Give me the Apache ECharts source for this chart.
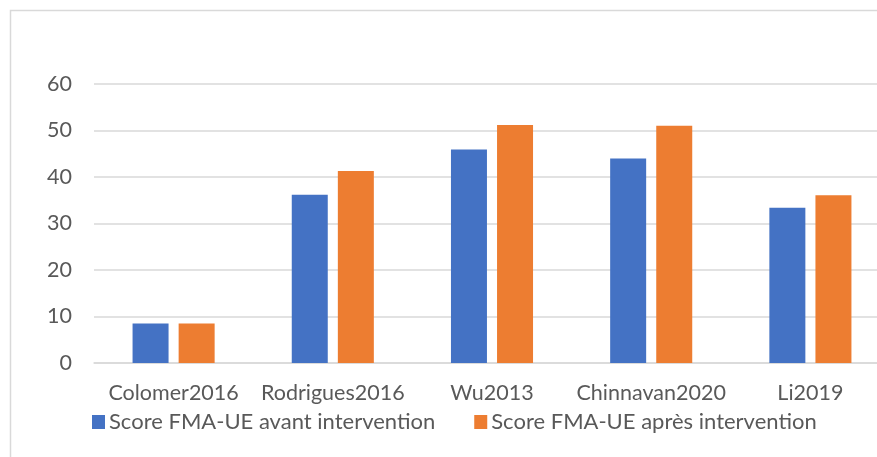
<!DOCTYPE html>
<html>
<head>
<meta charset="utf-8">
<script src="https://cdn.jsdelivr.net/npm/echarts@6/dist/echarts.min.js"></script>
<style>html,body{margin:0;padding:0;background:#fff}#c{width:877px;height:457px}</style>
</head>
<body>
<div id="c"></div>
<script>
const categories = ['Colomer2016', 'Rodrigues2016', 'Wu2013', 'Chinnavan2020', 'Li2019'];
const seriesNames = ['Score FMA-UE avant intervention', 'Score FMA-UE après intervention'];
const avant = [8.5, 36.2, 45.9, 44.0, 33.4];
const apres = [8.5, 41.3, 51.2, 51.0, 36.1];
const yTicks = { min: 0, max: 60, interval: 10 };

const FONT = 'Lato';
const FS = 21.5;
const TXT = '#595959';
const chart = echarts.init(document.getElementById('c'), null, { renderer: 'canvas' });
chart.setOption({
  animation: false,
  backgroundColor: '#fff',
  textStyle: { fontFamily: FONT },
  graphic: [{
    type: 'rect', left: 8, top: 8, silent: true,
    shape: { width: 900, height: 500 },
    style: { fill: 'none', stroke: '#d9d9d9', lineWidth: 1.5 }
  }],
  grid: { left: 94, width: 796, top: 84, bottom: 94, containLabel: false, outerBoundsMode: 'none' },
  legend: {
    data: seriesNames,
    left: 92, top: 411, padding: 0,
    itemWidth: 13, itemHeight: 14, itemGap: 39,
    icon: 'rect',
    textStyle: { fontFamily: FONT, fontSize: 22, color: TXT, padding: [0, 0, 0, -1] }
  },
  xAxis: {
    type: 'category', data: categories,
    axisLine: { lineStyle: { color: '#d9d9d9', width: 1.5 } },
    axisTick: { show: false },
    axisLabel: { color: TXT, fontSize: FS, fontFamily: FONT, margin: 19, interval: 0 }
  },
  yAxis: {
    type: 'value', min: yTicks.min, max: yTicks.max, interval: yTicks.interval,
    axisLine: { show: false }, axisTick: { show: false },
    splitLine: { lineStyle: { color: '#d9d9d9', width: 1.5 } },
    axisLabel: { color: TXT, fontSize: FS, fontFamily: FONT, margin: 22 }
  },
  series: [
    { name: seriesNames[0], type: 'bar', data: avant, barWidth: 36, barGap: '28%',
      itemStyle: { color: '#4472C4' } },
    { name: seriesNames[1], type: 'bar', data: apres, barWidth: 36, barGap: '28%',
      itemStyle: { color: '#ED7D31' } }
  ]
});
</script>
</body>
</html>
